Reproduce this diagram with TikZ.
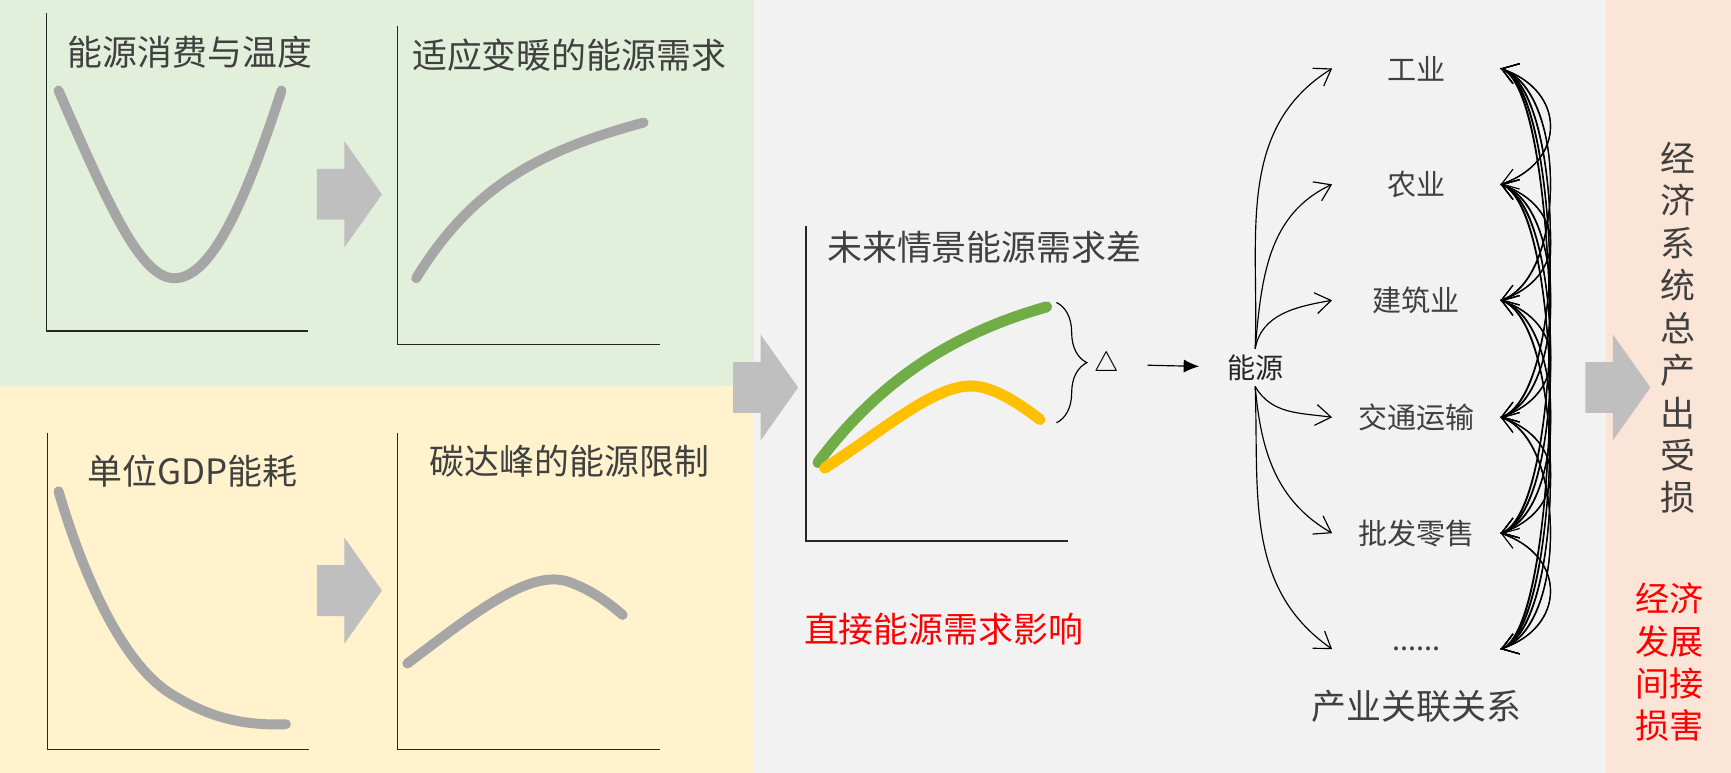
\documentclass[tikz,border=0pt]{standalone}
\usepackage{fontspec}
\setmainfont{Noto Sans CJK SC}
\usepackage{tikz}
\usetikzlibrary{arrows.meta,decorations.pathreplacing}
\definecolor{panelgreen}{HTML}{E2EFDA}
\definecolor{panelyellow}{HTML}{FFF2CC}
\definecolor{panelgray}{HTML}{F2F2F2}
\definecolor{panelpink}{HTML}{FBE5D6}
\definecolor{arrowgray}{HTML}{BFBFBF}
\definecolor{curvegray}{HTML}{A6A6A6}
\definecolor{txtgray}{HTML}{404040}
\definecolor{demandgreen}{HTML}{70AD47}
\definecolor{demandyellow}{HTML}{FFC000}
\def\blockarrow(#1,#2){\fill[arrowgray] (#1,#2) ++(0,-23) -- ++(25,0) -- ++(0,-25) -- ++(34,48) -- ++(-34,48) -- ++(0,-25) -- ++(-25,0) -- cycle;}

\begin{document}
\begin{tikzpicture}[x=0.02cm, y=-0.02cm,
	title/.style={anchor=west, inner sep=0pt, text=txtgray, font=\fontsize{18pt}{22pt}\selectfont},
	sector/.style={inner sep=0pt, minimum width=3.04cm, text=txtgray, font=\fontsize{15pt}{18pt}\selectfont},
	axisline/.style={line width=0.8pt, black!85},
	curve/.style={line width=0.18cm, curvegray, line cap=round},
	link/.style={-{Straight Barb[length=0.28cm,width=0.38cm]}, line width=0.6pt}]
	%%%%% PANELS %%%%%
	\useasboundingbox (0,0) rectangle (1568,700);
	\fill[panelgreen] (0,0) rectangle (683,350);
	\fill[panelyellow] (0,350) rectangle (683,700);
	\fill[panelgray] (683,0) rectangle (1455,700);
	\fill[panelpink] (1455,0) rectangle (1568,700);
	
	%%%%% FOUR SMALL PLOTS %%%%%
	\draw[axisline] (42,12) -- (42,300) -- (279,300);
	\node[title] (temp) at (61,47) {能源消费与温度};
	\draw[curve] (53,82) .. controls (100,190) and (128,252) .. (158,252) .. controls (190,252) and (220,190) .. (255,82);
	
	\draw[axisline] (360,24) -- (360,312) -- (598,312);
	\node[title] (adapt) at (373,50) {适应变暖的能源需求};
	\draw[curve] (377,252) .. controls (430,165) and (495,135) .. (583,111);
	
	\draw[axisline] (43,392) -- (43,679) -- (280,679);
	\node[title] (intensity) at (79,427) {单位GDP能耗};
	\draw[curve] (53,445) .. controls (75,520) and (110,600) .. (154,628) .. controls (180,644) and (210,658) .. (259,656);
	
	\draw[axisline] (360,392) -- (360,679) -- (598,679);
	\node[title] (peak) at (389,418) {碳达峰的能源限制};
	\draw[curve] (369,601) .. controls (430,555) and (480,515) .. (515,527) .. controls (535,534) and (550,545) .. (564,557);
	
	\blockarrow(287,176)
	\blockarrow(287,535)
	\blockarrow(664,351)
	\blockarrow(1436,351)
	
	%%%%% DEMAND GAP %%%%%
	\draw[axisline] (730,205) -- (730,490) -- (967,490);
	\node[title] (gap) at (749,224) {未来情景能源需求差};
	\draw[line width=0.2cm, demandgreen, line cap=round] (741,419) .. controls (800,340) and (870,300) .. (948,278);
	\draw[line width=0.2cm, demandyellow, line cap=round] (747,424) .. controls (800,390) and (850,345) .. (885,350) .. controls (905,353) and (925,367) .. (942,380);
	\draw[decorate, decoration={brace, amplitude=0.55cm}, line width=0.6pt] (957,274) -- (957,383);
	\node[font=\fontsize{14pt}{16pt}\selectfont] (delta) at (1002,330) {$\triangle$};
	\node[title, text=red] (direct) at (728,570) {直接能源需求影响};
	
	%%%%% SECTORS %%%%%
	\node[text=black!85, inner sep=0.1cm, font=\fontsize{14.5pt}{17pt}\selectfont] (energy) at (1137,333) {能源};
	\draw[-{Latex[length=0.28cm,width=0.24cm]}, line width=0.6pt, shorten <=0.4cm, shorten >=0.4cm] (delta) -- (energy);
	
	\node[sector] (s1) at (1283,62) {工业};
	\node[sector] (s2) at (1283,167) {农业};
	\node[sector] (s3) at (1283,272) {建筑业};
	\node[sector] (s4) at (1283,378) {交通运输};
	\node[sector] (s5) at (1283,483) {批发零售};
	\node[sector] (s6) at (1283,588) {......};
	\node[title, anchor=center] (chain) at (1283,640) {产业关联关系};
	
	\draw[link] (energy.north) to[out=88, in=212] (s1.west);
	\draw[link] (energy.north) to[out=85, in=205] (s2.west);
	\draw[link] (energy.north) to[out=80, in=190] (s3.west);
	\draw[link] (energy.south) to[out=-60, in=172] (s4.west);
	\draw[link] (energy.south) to[out=-85, in=150] (s5.west);
	\draw[link] (energy.south) to[out=-88, in=145] (s6.west);
	
	\foreach \i in {1,...,6}
		\foreach \j in {1,...,6}
			{\ifnum\i=\j\else
				\pgfmathsetmacro\da{\j>\i ? 20 : -20}
				\pgfmathsetmacro\db{\j>\i ? -20 : 20}
				\draw[link] (s\i.east) .. controls +(60,\da) and +(60,\db) .. (s\j.east);
			\fi}
	
	%%%%% OUTPUT LOSS %%%%%
	\node[text=txtgray, align=center, inner sep=0pt, font=\fontsize{18pt}{21.9pt}\selectfont] (loss) at (1520,297) {经\\济\\系\\统\\总\\产\\出\\受\\损};
	\node[text=red, align=center, inner sep=0pt, font=\fontsize{17.6pt}{21.8pt}\selectfont] (indirect) at (1512,600) {经济\\发展\\间接\\损害};
\end{tikzpicture}
\end{document}
